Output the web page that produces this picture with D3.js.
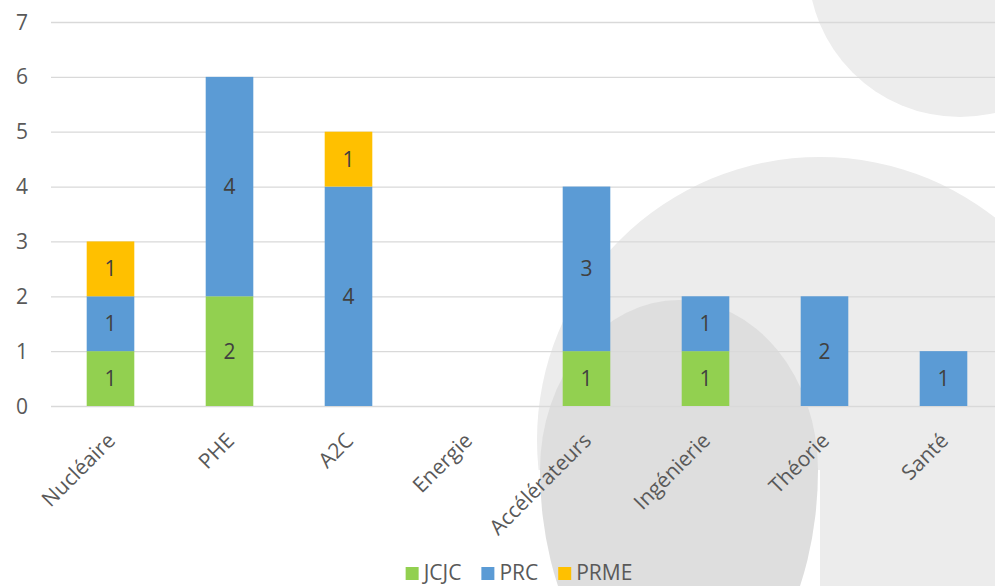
<!DOCTYPE html>
<html><head><meta charset="utf-8">
<script src="https://cdn.jsdelivr.net/npm/d3@7"></script>
<style>html,body{margin:0;padding:0;background:#fff;overflow:hidden}</style>
</head><body>
<svg id="chart" width="995" height="586"></svg>
<script>
const categories = ["Nucléaire","PHE","A2C","Energie","Accélérateurs","Ingénierie","Théorie","Santé"];
const seriesNames = ["JCJC","PRC","PRME"];
const JCJC = [1,2,0,0,1,1,0,0];
const PRC  = [1,4,4,0,3,1,2,1];
const PRME = [1,0,1,0,0,0,0,0];
const yTicks = [0,1,2,3,4,5,6,7];
const colors = ["#92d050","#5b9bd5","#ffc000"];

const W = 995, H = 586;
const svg = d3.select("#chart");
const font = "'Open Sans', 'Segoe UI', sans-serif";
const textCol = "#595959";
const fs = 21;

// decorative background shapes
const bg = svg.append("g");
bg.append("circle").attr("cx",960).attr("cy",-35).attr("r",152).attr("fill","#ededed");
const defs = svg.append("defs");
defs.append("clipPath").attr("id","lightClip").append("path")
  .attr("d","M0,0 H995 V586 H820 V470 H0 Z");
bg.append("circle").attr("cx",820).attr("cy",440).attr("r",283)
  .attr("fill","#ececec").attr("clip-path","url(#lightClip)");
const dcx=679, dcy=470, drx=139;
const bulb = `M${dcx-drx},${dcy} A${drx},170 0 0 1 ${dcx+drx},${dcy} A${drx},236 0 0 1 ${dcx-drx},${dcy} Z`;
bg.append("path").attr("d",bulb).attr("fill","#dedede");

const x = d3.scaleBand().domain(categories).range([51,1003]).paddingInner(0.6).paddingOuter(0.3);
const y = d3.scaleLinear().domain([0,7]).range([406,22]);

// gridlines
svg.append("g").selectAll("line").data(yTicks).join("line")
  .attr("x1",51).attr("x2",W).attr("y1",d=>y(d)+0.5).attr("y2",d=>y(d)+0.5)
  .attr("stroke","#d9d9d9").attr("stroke-width",1.3);

// y tick labels
svg.append("g").selectAll("text").data(yTicks).join("text")
  .attr("x",28).attr("y",d=>y(d)).attr("dy","0.36em")
  .attr("text-anchor","end").attr("font-family",font).attr("font-size",fs)
  .attr("fill",textCol).text(d=>d);

// stacked data
const rows = categories.map((c,i)=>({cat:c, JCJC:JCJC[i], PRC:PRC[i], PRME:PRME[i]}));
const stack = d3.stack().keys(seriesNames)(rows);

const gBars = svg.append("g");
stack.forEach((layer,si)=>{
  const g = gBars.append("g");
  const segs = layer.filter(d=>d[1]-d[0]>0);
  g.selectAll("rect").data(segs).join("rect")
    .attr("x",d=>x(d.data.cat)).attr("width",x.bandwidth())
    .attr("y",d=>y(d[1])).attr("height",d=>y(d[0])-y(d[1]))
    .attr("fill",colors[si]);
  g.selectAll("text").data(segs).join("text")
    .attr("x",d=>x(d.data.cat)+x.bandwidth()/2)
    .attr("y",d=>(y(d[0])+y(d[1]))/2).attr("dy","0.36em")
    .attr("text-anchor","middle").attr("font-family",font).attr("font-size",fs)
    .attr("fill","#404040").text(d=>d[1]-d[0]);
});

// category labels
svg.append("g").selectAll("text").data(categories).join("text")
  .attr("transform",d=>`translate(${x(d)+x.bandwidth()/2+6},442) rotate(-45)`)
  .attr("text-anchor","end").attr("font-family",font).attr("font-size",fs)
  .attr("fill",textCol).text(d=>d);

// legend
const leg = svg.append("g");
const items = leg.selectAll("g").data(seriesNames).join("g");
items.append("rect").attr("width",13).attr("height",13).attr("y",567)
  .attr("fill",(d,i)=>colors[i]);
items.append("text").attr("x",18).attr("y",580).attr("font-family",font)
  .attr("font-size",fs).attr("fill",textCol).text(d=>d);
let xoff = 0; const offs=[];
items.each(function(){ offs.push(xoff); const w=d3.select(this).select("text").node().getComputedTextLength(); xoff += 18+w+20; });
const total = xoff-20;
const start = 519 - total/2;
items.attr("transform",(d,i)=>`translate(${start+offs[i]},0)`);
</script>
</body></html>
